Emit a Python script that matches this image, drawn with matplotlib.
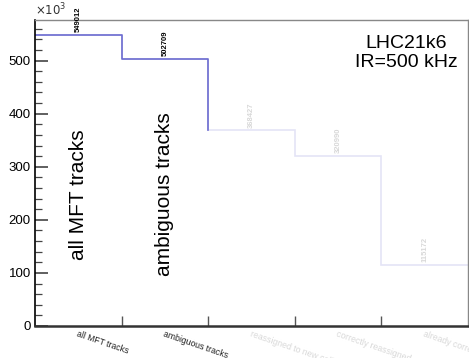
import numpy as np
import matplotlib
matplotlib.use('Agg')
import matplotlib.pyplot as plt
from matplotlib.ticker import MultipleLocator, FuncFormatter

plt.rcParams['font.family'] = ['Liberation Sans', 'DejaVu Sans']

# bins of the track histogram
categories = ['all MFT tracks', 'ambiguous tracks', 'reassigned to new collision',
              'correctly reassigned', 'already correct']
counts = [549012, 502709, 368427, 320990, 115172]
n_shown = 2  # bins highlighted so far

dark = '#6c6cd0'
faded = '#e4e4f6'
faded_txt = '#d8d8d8'

fig = plt.figure(figsize=(4.69, 3.58), dpi=100)
ax = fig.add_axes([0.0746, 0.0894, 0.9234, 0.8546])

edges = np.arange(len(counts) + 1)
centers = edges[:-1] + 0.5

# full histogram, faded
ax.stairs(counts, edges, color=faded, linewidth=1.2, baseline=None)

# highlighted part
xs, ys = [], []
for i in range(n_shown):
    xs += [edges[i], edges[i + 1]]
    ys += [counts[i], counts[i]]
xs.append(edges[n_shown])
ys.append(counts[n_shown])
ax.plot(xs, ys, color=dark, linewidth=1.2)

# values on top of the bins
for i, (c, v) in enumerate(zip(centers, counts)):
    col = 'black' if i < n_shown else faded_txt
    ax.annotate(str(v), (c, v), xytext=(0, 2), textcoords='offset points',
                rotation=90, ha='center', va='bottom', fontsize=5.5,
                fontweight='bold', color=col, annotation_clip=False)

# big labels
for i in range(n_shown):
    ax.text(centers[i], 248e3, categories[i], rotation=90, ha='center',
            va='center', fontsize=15)

ax.text(0.857, 0.951, 'LHC21k6\nIR=500 kHz', transform=ax.transAxes,
        ha='center', va='top', multialignment='center', fontsize=14,
        linespacing=1.15)

ax.set_xlim(0, len(counts))
ax.set_ylim(0, 576.5e3)

ax.yaxis.set_major_locator(MultipleLocator(100e3))
ax.yaxis.set_minor_locator(MultipleLocator(20e3))
ax.yaxis.set_major_formatter(FuncFormatter(lambda v, p: '%d' % round(v / 1000)))
ax.tick_params(axis='y', which='major', direction='in', length=9, width=1.2,
               labelsize=9.5, pad=3, color='#444444')
ax.tick_params(axis='y', which='minor', direction='in', length=5, width=0.9,
               color='#444444')
ax.text(0.0, 1.005, r'$\times10^{3}$', transform=ax.transAxes, ha='left',
        va='bottom', fontsize=8.5, color='#333333')

# x axis: ticks at bin edges, labels at bin centers
ax.set_xticks(edges[1:-1])
ax.set_xticklabels([])
ax.tick_params(axis='x', direction='in', length=7, width=1.0, color='#555555')
for t, e in zip(ax.xaxis.get_major_ticks(), edges[1:-1]):
    if e > n_shown:
        t.tick1line.set_color('#cccccc')
trans = ax.get_xaxis_transform()
for i, (c, lab) in enumerate(zip(centers, categories)):
    col = '#222222' if i < n_shown else faded_txt
    ax.text(c, -0.01, lab, transform=trans, rotation=-19, rotation_mode='anchor',
            ha='left', va='top', fontsize=6.2, color=col, clip_on=False)

ax.spines['left'].set_linewidth(1.2)
ax.spines['bottom'].set_linewidth(1.8)
ax.spines['bottom'].set_color('#333333')
for s in ['top', 'right']:
    ax.spines[s].set_color('#888888')
    ax.spines[s].set_linewidth(1.0)

fig.savefig('out.png', dpi=100)
